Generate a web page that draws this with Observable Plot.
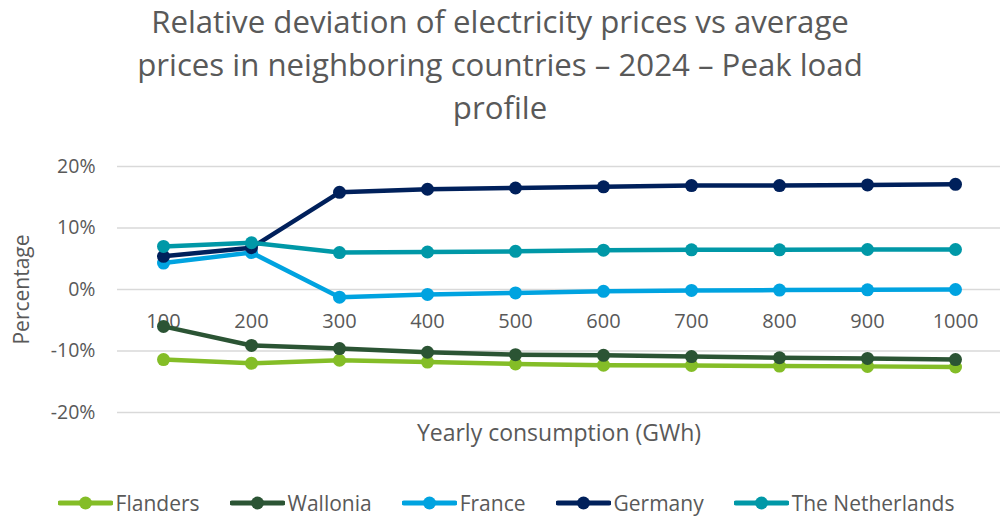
<!DOCTYPE html>
<html>
<head>
<meta charset="utf-8">
<script src="https://cdn.jsdelivr.net/npm/d3@7"></script>
<script src="https://cdn.jsdelivr.net/npm/@observablehq/plot@0.6"></script>
<style>
  html, body { margin: 0; padding: 0; background: #fff; }
  body { width: 1000px; height: 520px; overflow: hidden; font-family: "Open Sans", sans-serif; color: #595959; }
  #title { text-align: center; font-size: 31.2px; line-height: 43px; height: 135px; margin-top: 0; }
  #chart { height: 320px; }
  #legend { display: flex; justify-content: center; align-items: center; gap: 30px; margin-top: 34px; font-size: 21px; padding-left: 12px; }
  .item { display: flex; align-items: center; gap: 3px; }
</style>
</head>
<body>
<div id="title">Relative deviation of electricity prices vs average<br>prices in neighboring countries – 2024 – Peak load<br>profile</div>
<div id="chart"></div>
<div id="legend"></div>
<script>
const categories = ["100", "200", "300", "400", "500", "600", "700", "800", "900", "1000"];
const seriesNames = ["Flanders", "Wallonia", "France", "Germany", "The Netherlands"];
const seriesColors = ["#84bd27", "#2b5434", "#00a3e0", "#00205b", "#0098a7"];
const flanders = [-11.4, -12.0, -11.5, -11.8, -12.1, -12.3, -12.35, -12.45, -12.5, -12.6];
const wallonia = [-6.0, -9.1, -9.6, -10.2, -10.6, -10.7, -10.9, -11.1, -11.2, -11.4];
const france = [4.3, 6.0, -1.25, -0.8, -0.55, -0.3, -0.15, -0.1, -0.05, 0.0];
const germany = [5.4, 6.8, 15.8, 16.3, 16.5, 16.7, 16.9, 16.9, 17.0, 17.1];
const netherlands = [7.0, 7.6, 6.0, 6.1, 6.2, 6.4, 6.45, 6.45, 6.5, 6.5];
const yTicks = [-20, -10, 0, 10, 20];
const xLabel = "Yearly consumption (GWh)";
const yLabel = "Percentage";

const seriesValues = [flanders, wallonia, france, germany, netherlands];
const data = [];
seriesNames.forEach((name, i) => {
  categories.forEach((c, j) => data.push({series: name, x: c, y: seriesValues[i][j]}));
});

const seriesMarks = seriesNames.flatMap(name => {
  const rows = data.filter(d => d.series === name);
  return [
    Plot.line(rows, {x: "x", y: "y", stroke: "series", strokeWidth: 4.5, strokeLinejoin: "round"}),
    Plot.dot(rows, {x: "x", y: "y", fill: "series", r: 6.5, stroke: null})
  ];
});

const chart = Plot.plot({
  width: 1000,
  height: 320,
  marginTop: 31,
  marginBottom: 43,
  marginLeft: 117,
  marginRight: 0,
  style: {fontFamily: "'Open Sans', sans-serif", fontSize: "19px", color: "#595959", background: "#fff"},
  x: {type: "point", domain: categories, padding: 0.5, axis: null},
  y: {domain: [-20, 20], axis: null},
  color: {domain: seriesNames, range: seriesColors},
  marks: [
    Plot.ruleY(yTicks, {stroke: "#d9d9d9", strokeWidth: 1.5}),
    Plot.axisY({ticks: yTicks, tickSize: 0, tickPadding: 22, tickFormat: d => d + "%", label: null, fontSize: 19.5}),
    Plot.text(categories, {x: d => d, y: () => 0, dy: 32, fill: "#595959", fontSize: 20}),
    Plot.text([xLabel], {frameAnchor: "bottom", dy: 28, fill: "#595959", fontSize: 23}),
    Plot.text([yLabel], {frameAnchor: "left", textAnchor: "middle", dx: -95, rotate: -90, fill: "#595959", fontSize: 21}),
    ...seriesMarks
  ]
});
document.getElementById("chart").appendChild(chart);

const legend = document.getElementById("legend");
seriesNames.forEach((name, i) => {
  const item = document.createElement("div");
  item.className = "item";
  const c = seriesColors[i];
  item.innerHTML = `<svg width="55" height="16"><line x1="2" x2="53" y1="8" y2="8" stroke="${c}" stroke-width="5" stroke-linecap="round"/><circle cx="27.5" cy="8" r="6.5" fill="${c}"/></svg><span>${name}</span>`;
  legend.appendChild(item);
});
</script>
</body>
</html>
